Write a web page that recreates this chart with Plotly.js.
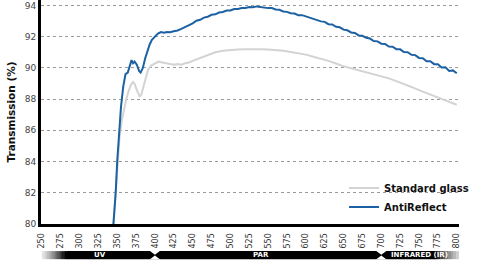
<!DOCTYPE html>
<html>
<head>
<meta charset="utf-8">
<script src="https://cdn.plot.ly/plotly-3.0.1.min.js"></script>
<style>
html,body{margin:0;padding:0;background:#fff;}
#chart{width:480px;height:270px;}
</style>
</head>
<body>
<div id="chart"></div>
<script>
// Wavelength (nm) and transmission (%)
var wlAnti = [345,348,350,352,355,358,361,364,367,369,371,373,376,379,381,384,387,390,393,396,400,404,408,412,416,420,425,430,435,440,445,450,455,460,465,470,475,480,485,490,495,500,505,510,515,520,525,530,535,540,545,550,555,560,565,570,575,580,585,590,595,600,605,610,615,620,625,630,635,640,645,650,655,660,665,670,675,680,685,690,695,700,705,710,715,720,725,730,735,740,745,750,755,760,765,770,775,780,785,790,795,800];
var antiReflect = [80.0,82.0,84.0,85.6,87.5,88.8,89.6,89.7,90.2,90.5,90.3,90.4,90.2,89.8,89.7,90.0,90.6,91.1,91.5,91.8,92.0,92.2,92.3,92.25,92.3,92.28,92.35,92.4,92.5,92.6,92.75,92.85,93.02,93.08,93.22,93.28,93.4,93.43,93.55,93.58,93.67,93.68,93.77,93.78,93.84,93.84,93.9,93.88,93.94,93.9,93.9,93.83,93.84,93.74,93.72,93.62,93.59,93.5,93.48,93.38,93.38,93.3,93.27,93.15,93.1,92.98,92.95,92.8,92.78,92.63,92.6,92.45,92.41,92.27,92.24,92.08,92.06,91.93,91.88,91.72,91.7,91.55,91.53,91.37,91.36,91.2,91.19,91.02,91.0,90.84,90.82,90.64,90.62,90.42,90.43,90.24,90.24,90.02,90.04,89.8,89.84,89.66];
var wlStd = [345,348,350,353,356,359,362,365,368,371,373,375,378,380,382,385,388,391,395,400,405,410,415,420,425,430,435,440,445,450,455,460,465,470,475,480,490,500,510,520,530,540,550,560,570,580,590,600,610,620,630,640,650,660,670,680,690,700,710,720,730,740,750,760,770,780,790,800];
var standardGlass = [80.0,82.0,83.8,85.5,86.6,87.4,88.0,88.5,88.9,89.1,89.0,88.7,88.3,88.15,88.3,88.9,89.5,89.9,90.15,90.3,90.4,90.35,90.3,90.25,90.2,90.25,90.2,90.3,90.35,90.45,90.55,90.65,90.75,90.85,90.95,91.0,91.1,91.15,91.18,91.2,91.22,91.2,91.18,91.15,91.1,91.02,90.95,90.85,90.72,90.6,90.45,90.28,90.1,89.98,89.85,89.75,89.62,89.5,89.33,89.15,88.98,88.78,88.58,88.38,88.2,88.0,87.82,87.64];
var xTicks = [250,275,300,325,350,375,400,425,450,475,500,525,550,575,600,625,650,675,700,725,750,775,800];
var yTicks = [80,82,84,86,88,90,92,94];
var bandNames = ['UV', 'PAR', 'INFRARED (IR)'];
var bandLabelPos = [327, 541, 750];
var bandEdges = [400, 700];

var shapes = [];
var annotations = [];
var bandY0 = -0.157, bandY1 = -0.121; // paper coords below axis
shapes.push({type:'rect', xref:'x', yref:'paper', x0:283, x1:775, y0:bandY0, y1:bandY1, fillcolor:'#000', line:{width:0}, layer:'above'});
var steps = 10;
for (var i=0;i<steps;i++){
  var t = (i+1)/steps;
  var g = Math.round(240*(1-Math.pow(t,1.3)));
  shapes.push({type:'rect', xref:'x', yref:'paper', x0:250+i*33/steps, x1:250+(i+1)*33/steps+0.4, y0:bandY0, y1:bandY1, fillcolor:'rgb('+g+','+g+','+g+')', line:{width:0}, layer:'above'});
  var g2 = Math.round(245*Math.pow(t,0.8));
  shapes.push({type:'rect', xref:'x', yref:'paper', x0:775+i*35/steps-0.4, x1:775+(i+1)*35/steps, y0:bandY0, y1:bandY1, fillcolor:'rgb('+g2+','+g2+','+g2+')', line:{width:0}, layer:'above'});
}
var ymid = (bandY0+bandY1)/2;
bandEdges.forEach(function(j){
  shapes.push({type:'path', xref:'x', yref:'paper', layer:'above', fillcolor:'#fff', line:{width:0},
    path:'M'+(j-7)+','+(bandY1+0.002)+' L'+(j+7)+','+(bandY1+0.002)+' L'+j+','+(ymid+0.002)+' Z'});
  shapes.push({type:'path', xref:'x', yref:'paper', layer:'above', fillcolor:'#fff', line:{width:0},
    path:'M'+(j-7)+','+(bandY0-0.002)+' L'+(j+7)+','+(bandY0-0.002)+' L'+j+','+(ymid-0.002)+' Z'});
});
bandNames.forEach(function(n, k){
  annotations.push({xref:'x', yref:'paper', x:bandLabelPos[k], y:ymid, text:'<b>'+n+'</b>', showarrow:false,
    font:{family:'DejaVu Sans', size:7, color:'#fff'}, xanchor:'center', yanchor:'middle'});
});

var traces = [
  {x:wlStd, y:standardGlass, type:'scatter', mode:'lines', name:'Standard glass', line:{color:'#d3d3d3', width:2}},
  {x:wlAnti, y:antiReflect, type:'scatter', mode:'lines', name:'AntiReflect', line:{color:'#1c61a3', width:2}}
];

var layout = {
  width:480, height:270,
  margin:{l:41, r:21, t:0, b:46},
  paper_bgcolor:'#fff', plot_bgcolor:'#fff',
  showlegend:true,
  legend:{x:0.725, y:0.225, xanchor:'left', yanchor:'top', bgcolor:'rgba(0,0,0,0)',
    font:{family:'DejaVu Sans', size:10, color:'#111', weight:'bold'}, itemwidth:30, tracegroupgap:0},
  xaxis:{range:[249,803], tickvals:xTicks, ticktext:xTicks.map(String), tickangle:-90,
    tickfont:{family:'DejaVu Sans', size:8, color:'#333'}, showgrid:false, zeroline:false,
    showline:true, linecolor:'#000', linewidth:3, ticks:'', ticklen:0, ticklabelstandoff:3},
  yaxis:{range:[80,94.35], tickvals:yTicks, ticktext:yTicks.map(String),
    tickfont:{family:'DejaVu Sans', size:9, color:'#444'}, showgrid:true, gridcolor:'#9a9a9a', griddash:'3px,3px', gridwidth:1,
    zeroline:false, showline:true, linecolor:'#000', linewidth:3, ticks:'',
    title:{text:'<b>Transmission (%)</b>', font:{family:'DejaVu Sans', size:10.5, color:'#111'}, standoff:8}},
  shapes:shapes,
  annotations:annotations
};
Plotly.newPlot('chart', traces, layout, {displayModeBar:false, staticPlot:true});
</script>
</body>
</html>
